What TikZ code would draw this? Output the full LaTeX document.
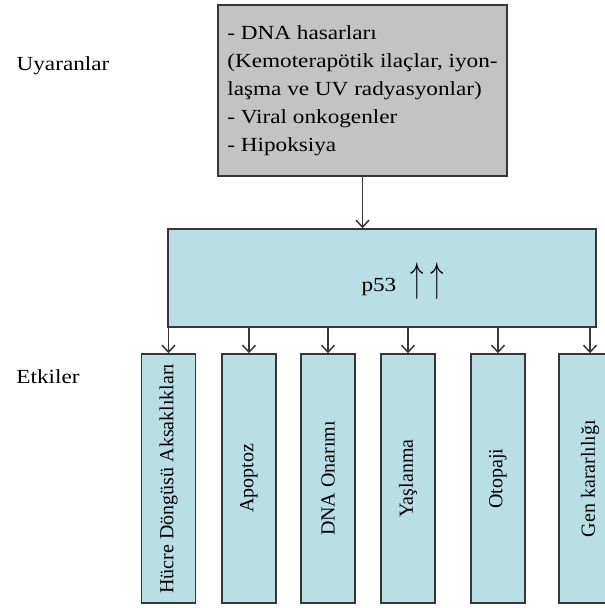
\documentclass[tikz,border=0pt]{standalone}
\usepackage{fontspec}
\setmainfont{Liberation Serif}
\newfontfamily\widefont{Liberation Serif}[FakeStretch=1.16]
\usetikzlibrary{arrows.meta}

\definecolor{boxgray}{RGB}{195,195,195}
\definecolor{boxblue}{RGB}{185,222,228}
\definecolor{linegray}{RGB}{55,55,55}

\newcommand{\tallup}{\scalebox{1.3}[2.0]{$\uparrow$}}

\tikzset{
  widetext/.style={font=\widefont\fontsize{20}{28}\selectfont},
  stimbox/.style={widetext, draw=linegray, line width=1.5, fill=boxgray, minimum width=289, minimum height=171, align=left},
  mainbox/.style={draw=linegray, line width=1.5, fill=boxblue, minimum width=428, minimum height=98},
  effbox/.style={draw=linegray, line width=1.5, fill=boxblue, minimum width=249, minimum height=54, rotate=90},
  arr/.style={draw=linegray, line width=1.5, -{Straight Barb[length=7,width=13]}},
}

\begin{document}
\begin{tikzpicture}[x=1pt,y=1pt,yscale=-1,font=\fontsize{20}{28}\selectfont]
\useasboundingbox (0,0) rectangle (605,608);

% Side labels
\node[widetext] (lblstim) at (63,66) {Uyaranlar};
\node[widetext] (lbleff) at (48,377) {Etkiler};

% Stimuli box
\node[stimbox] (stim) at (362.5,90.5) {- DNA hasarları\\(Kemoterapötik ilaçlar, iyon-\\laşma ve UV radyasyonlar)\\- Viral onkogenler\\- Hipoksiya};

% p53 box
\node[mainbox] (p53) at (382,278) {};
\node[widetext, anchor=west] (p53txt) at (358,281) {p53\hspace{14pt}\tallup\hspace{7pt}\tallup};

% Effect boxes
\node[effbox] (e1) at (168.5,478.5) {Hücre Döngüsü Aksaklıkları};
\node[effbox] (e2) at (249,478.5) {Apoptoz};
\node[effbox] (e3) at (328,478.5) {DNA Onarımı};
\node[effbox] (e4) at (408,478.5) {Yaşlanma};
\node[effbox] (e5) at (498,478.5) {Otopaji};
\node[effbox, minimum height=62] (e6) at (590,478.5) {Gen kararlılığı};

% Arrows
\draw[arr] (stim.south) -- (stim.south |- p53.north);
\foreach \e in {e1,e2,e3,e4,e5,e6}
  \draw[arr] (\e.east |- p53.south) -- (\e.east);

\end{tikzpicture}
\end{document}
